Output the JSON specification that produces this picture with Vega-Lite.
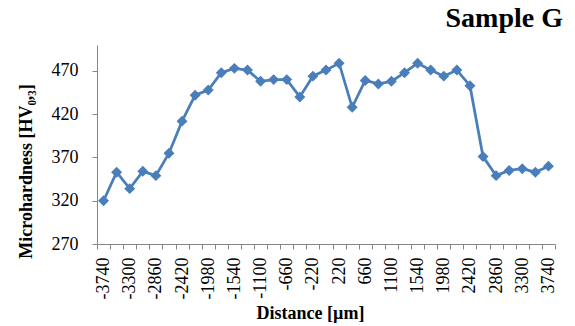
{
  "$schema": "https://vega.github.io/schema/vega-lite/v6.json",
  "width": 458,
  "height": 199,
  "autosize": "none",
  "padding": {"left": 97, "top": 45, "right": 20, "bottom": 82},
  "background": "white",
  "title": {
    "text": "Sample G",
    "anchor": "end",
    "frame": "group",
    "font": "Liberation Serif",
    "fontSize": 28,
    "fontWeight": "bold",
    "color": "black",
    "baseline": "bottom",
    "offset": 15,
    "dx": 8,
    "dy": 31
  },
  "data": {
    "values": [
      {"d": -3740, "hv": 320}, {"d": -3520, "hv": 353}, {"d": -3300, "hv": 334},
      {"d": -3080, "hv": 354}, {"d": -2860, "hv": 349}, {"d": -2640, "hv": 375},
      {"d": -2420, "hv": 412}, {"d": -2200, "hv": 442}, {"d": -1980, "hv": 448},
      {"d": -1760, "hv": 468}, {"d": -1540, "hv": 473}, {"d": -1320, "hv": 471},
      {"d": -1100, "hv": 458}, {"d": -880, "hv": 460}, {"d": -660, "hv": 460},
      {"d": -440, "hv": 440}, {"d": -220, "hv": 464}, {"d": 0, "hv": 471},
      {"d": 220, "hv": 479}, {"d": 440, "hv": 428}, {"d": 660, "hv": 459},
      {"d": 880, "hv": 455}, {"d": 1100, "hv": 458}, {"d": 1320, "hv": 468},
      {"d": 1540, "hv": 479}, {"d": 1760, "hv": 471}, {"d": 1980, "hv": 464},
      {"d": 2200, "hv": 471}, {"d": 2420, "hv": 453}, {"d": 2640, "hv": 371},
      {"d": 2860, "hv": 349}, {"d": 3080, "hv": 355}, {"d": 3300, "hv": 357},
      {"d": 3520, "hv": 353}, {"d": 3740, "hv": 360}
    ]
  },
  "mark": {
    "type": "line",
    "color": "#4a7ebb",
    "strokeWidth": 2.75,
    "point": {"shape": "diamond", "size": 120, "color": "#4a7ebb", "filled": true, "opacity": 1}
  },
  "encoding": {
    "x": {
      "field": "d",
      "type": "ordinal",
      "sort": "ascending",
      "scale": {"type": "band", "paddingInner": 0, "paddingOuter": 0},
      "axis": {
        "title": "Distance [µm]",
        "titleFont": "Liberation Serif",
        "titleFontSize": 18,
        "titleFontWeight": "bold",
        "titleColor": "black",
        "titleX": 213,
        "titlePadding": 6,
        "labelFont": "Liberation Serif",
        "labelFontSize": 18,
        "labelColor": "black",
        "labelAngle": -90,
        "labelPadding": 8,
        "labelOverlap": false,
        "labelExpr": "abs(datum.value/220) % 2 == 1 ? datum.label : ''",
        "tickBand": "extent",
        "tickSize": 5,
        "tickColor": "#868686",
        "domainColor": "#868686",
        "domainWidth": 1,
        "grid": false
      }
    },
    "y": {
      "field": "hv",
      "type": "quantitative",
      "scale": {"domain": [270, 500], "nice": false, "zero": false},
      "axis": {
        "title": "Microhardness  [HV₀,₃]",
        "titleFont": "Liberation Serif",
        "titleFontSize": 18,
        "titleFontWeight": "bold",
        "titleColor": "black",
        "titleY": 126,
        "titlePadding": 16,
        "values": [270, 320, 370, 420, 470],
        "labelFont": "Liberation Serif",
        "labelFontSize": 18,
        "labelColor": "black",
        "labelPadding": 14,
        "tickSize": 5,
        "tickColor": "#868686",
        "domainColor": "#868686",
        "grid": false
      }
    }
  },
  "config": {"view": {"stroke": null}}
}
